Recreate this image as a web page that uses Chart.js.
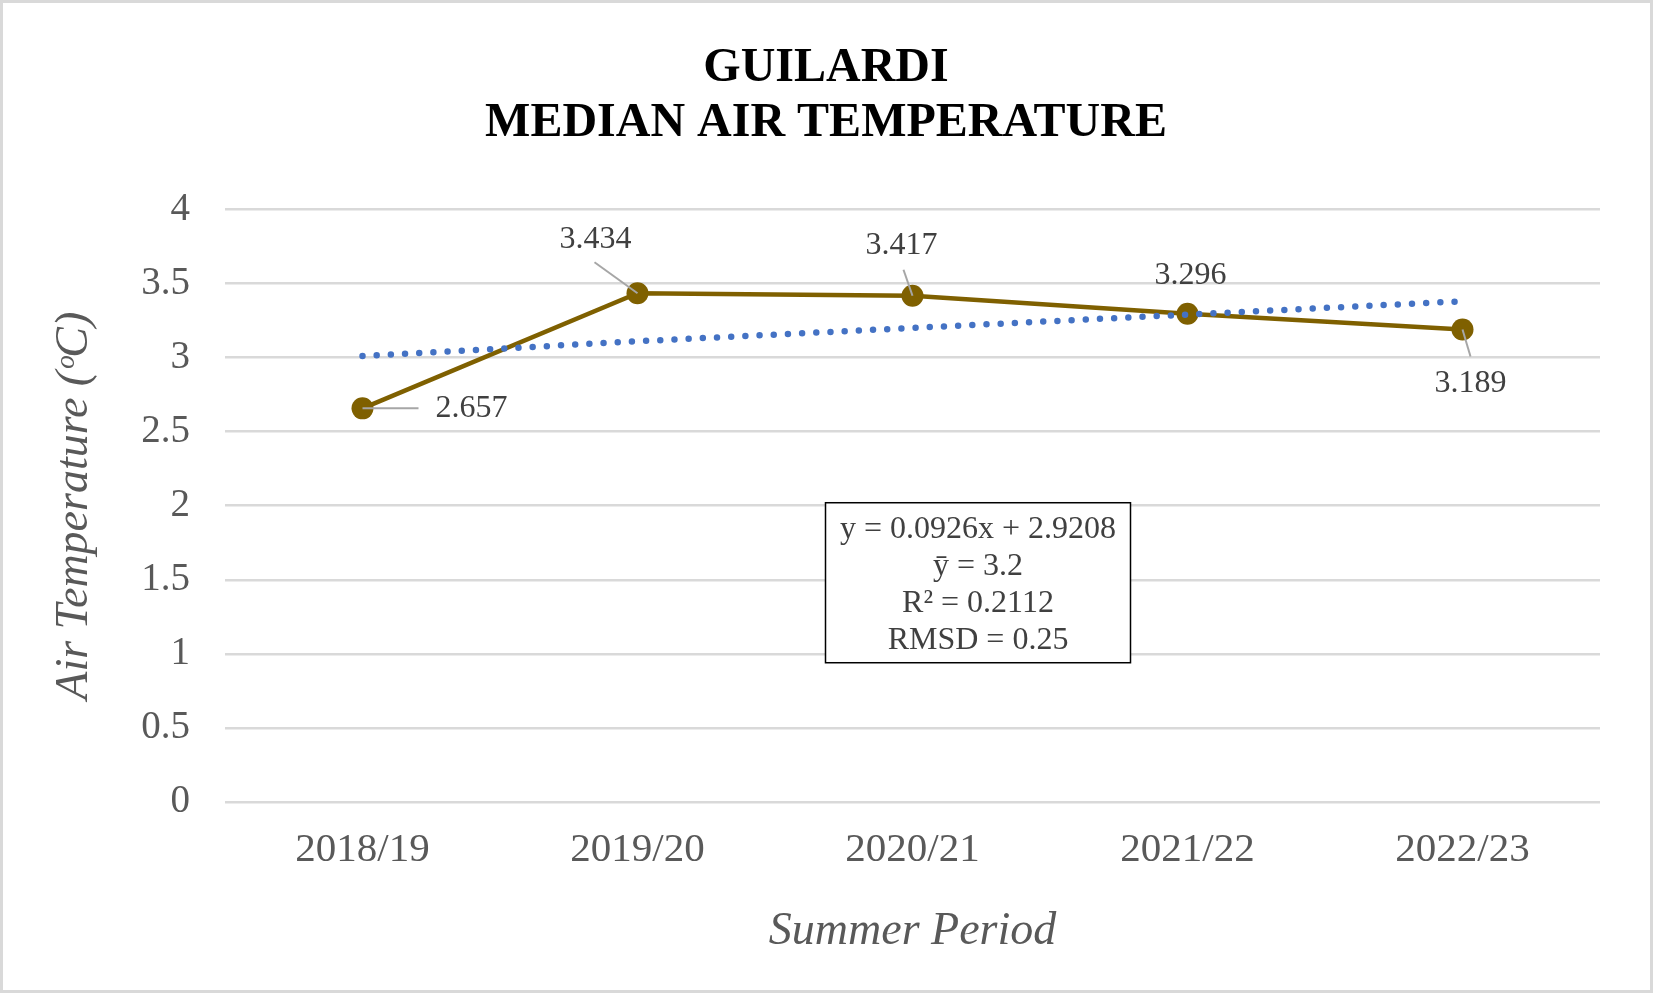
<!DOCTYPE html>
<html>
<head>
<meta charset="utf-8">
<script src="https://cdn.jsdelivr.net/npm/chart.js@4/dist/chart.umd.min.js"></script>
<style>
  html, body { margin:0; padding:0; background:#fff; }
  #wrap { position:relative; width:1653px; height:993px; box-sizing:border-box; border:3px solid #d9d9d9; }
  canvas { display:block; }
</style>
</head>
<body>
<div id="wrap"><canvas id="c" width="1647" height="987"></canvas></div>
<script>
// ---------- DATA ----------
const periods   = ["2018/19", "2019/20", "2020/21", "2021/22", "2022/23"];
const medianT   = [2.657, 3.434, 3.417, 3.296, 3.189];
const trendT    = [3.01, 3.11, 3.20, 3.29, 3.38];   // linear trend
const yTicks    = [0, 0.5, 1, 1.5, 2, 2.5, 3, 3.5, 4];
const titleText = ["GUILARDI", "MEDIAN AIR TEMPERATURE"];
const statsText = ["y = 0.0926x + 2.9208", "ȳ = 3.2", "R² = 0.2112", "RMSD = 0.25"];

// ---------- STYLE ----------
const SERIF = "'Liberation Serif', 'Times New Roman', serif";
const GREY  = "#595959";
const GOLD  = "#7F6000";
const BLUE  = "#4472C4";

// label offset from its point (px): [dx, dy, leaderDx, leaderDy, align]
const labelPos = [
  [ 73,   0,  56,   0, "left"],
  [-42, -54, -43, -31, "center"],
  [-11, -50,  -9, -26, "center"],
  [  3, -38,   0,   0, "center"],
  [  8,  54,   8,  27, "center"]
];

const dataLabels = {
  id: "dataLabels",
  afterDatasetsDraw(chart){
    const ctx = chart.ctx;
    const meta = chart.getDatasetMeta(0);
    ctx.save();
    ctx.font = `32px ${SERIF}`;
    ctx.textBaseline = "middle";
    meta.data.forEach((pt, i) => {
      const [dx, dy, lx, ly, al] = labelPos[i];
      if (lx || ly){
        ctx.strokeStyle = "#a6a6a6";
        ctx.lineWidth = 2;
        ctx.beginPath();
        ctx.moveTo(pt.x, pt.y);
        ctx.lineTo(pt.x + lx, pt.y + ly);
        ctx.stroke();
      }
      ctx.fillStyle = "#404040";
      ctx.textAlign = al;
      ctx.fillText(medianT[i].toFixed(3), pt.x + dx, pt.y + dy);
    });
    ctx.restore();
  }
};

// stats box sits in the plot, placed against the category/value scales
const statsBox = {
  id: "statsBox",
  afterDraw(chart){
    const ctx = chart.ctx;
    const xs = chart.scales.x, ys = chart.scales.y;
    const cx = (xs.getPixelForValue(2) + xs.getPixelForValue(3)) / 2 - 72;
    const top = ys.getPixelForValue(2.02);
    const w = 305, h = 160, lh = 37;
    ctx.save();
    ctx.fillStyle = "#fff";
    ctx.fillRect(cx - w/2, top, w, h);
    ctx.strokeStyle = "#000";
    ctx.lineWidth = 1.5;
    ctx.strokeRect(cx - w/2, top, w, h);
    ctx.fillStyle = "#404040";
    ctx.font = `32px ${SERIF}`;
    ctx.textAlign = "center";
    ctx.textBaseline = "middle";
    statsText.forEach((t, i) => ctx.fillText(t, cx, top + 27 + i * lh));
    ctx.restore();
  }
};

new Chart(document.getElementById("c"), {
  type: "line",
  data: {
    labels: periods,
    datasets: [
      {
        label: "Median",
        data: medianT,
        borderColor: GOLD,
        backgroundColor: GOLD,
        borderWidth: 4.5,
        pointRadius: 11,
        pointBackgroundColor: GOLD,
        pointBorderWidth: 0,
        tension: 0,
        order: 1
      },
      {
        label: "Linear trend",
        data: trendT,
        borderColor: BLUE,
        borderWidth: 6.5,
        borderDash: [0, 14.2],
        borderCapStyle: "round",
        pointRadius: 0,
        tension: 0,
        order: 0
      }
    ]
  },
  options: {
    responsive: false,
    animation: false,
    devicePixelRatio: 1,
    layout: { padding: { left: 49, right: 50, top: 0, bottom: 0 } },
    plugins: {
      legend: { display: false },
      tooltip: { enabled: false },
      title: {
        display: true,
        text: titleText,
        color: "#000",
        font: { family: SERIF, size: 48, weight: "bold", lineHeight: 1.15 },
        padding: { top: 38, bottom: 58 }
      }
    },
    scales: {
      x: {
        offset: true,
        grid: { display: false, drawTicks: false },
        border: { display: false },
        ticks: { color: GREY, font: { family: SERIF, size: 41 }, padding: 24 },
        title: {
          display: true,
          text: "Summer Period",
          color: GREY,
          font: { family: SERIF, size: 46, style: "italic", lineHeight: 1.2 },
          padding: { top: 0, bottom: 30 }
        },
        afterFit(s){ s.height = 188; }
      },
      y: {
        min: 0, max: 4,
        afterBuildTicks(s){ s.ticks = yTicks.map(v => ({ value: v })); },
        grid: { color: "#d9d9d9", lineWidth: 2.5, drawTicks: false },
        border: { display: false },
        ticks: {
          color: GREY,
          font: { family: SERIF, size: 39 },
          padding: 35,
          callback: v => String(v)
        },
        title: {
          display: true,
          text: "Air Temperature (ᵒC)",
          color: GREY,
          font: { family: SERIF, size: 46, style: "italic", lineHeight: 1 },
          padding: { top: 0, bottom: 0 }
        },
        afterFit(s){ s.width = 173; }
      }
    }
  },
  plugins: [dataLabels, statsBox]
});
</script>
</body>
</html>
